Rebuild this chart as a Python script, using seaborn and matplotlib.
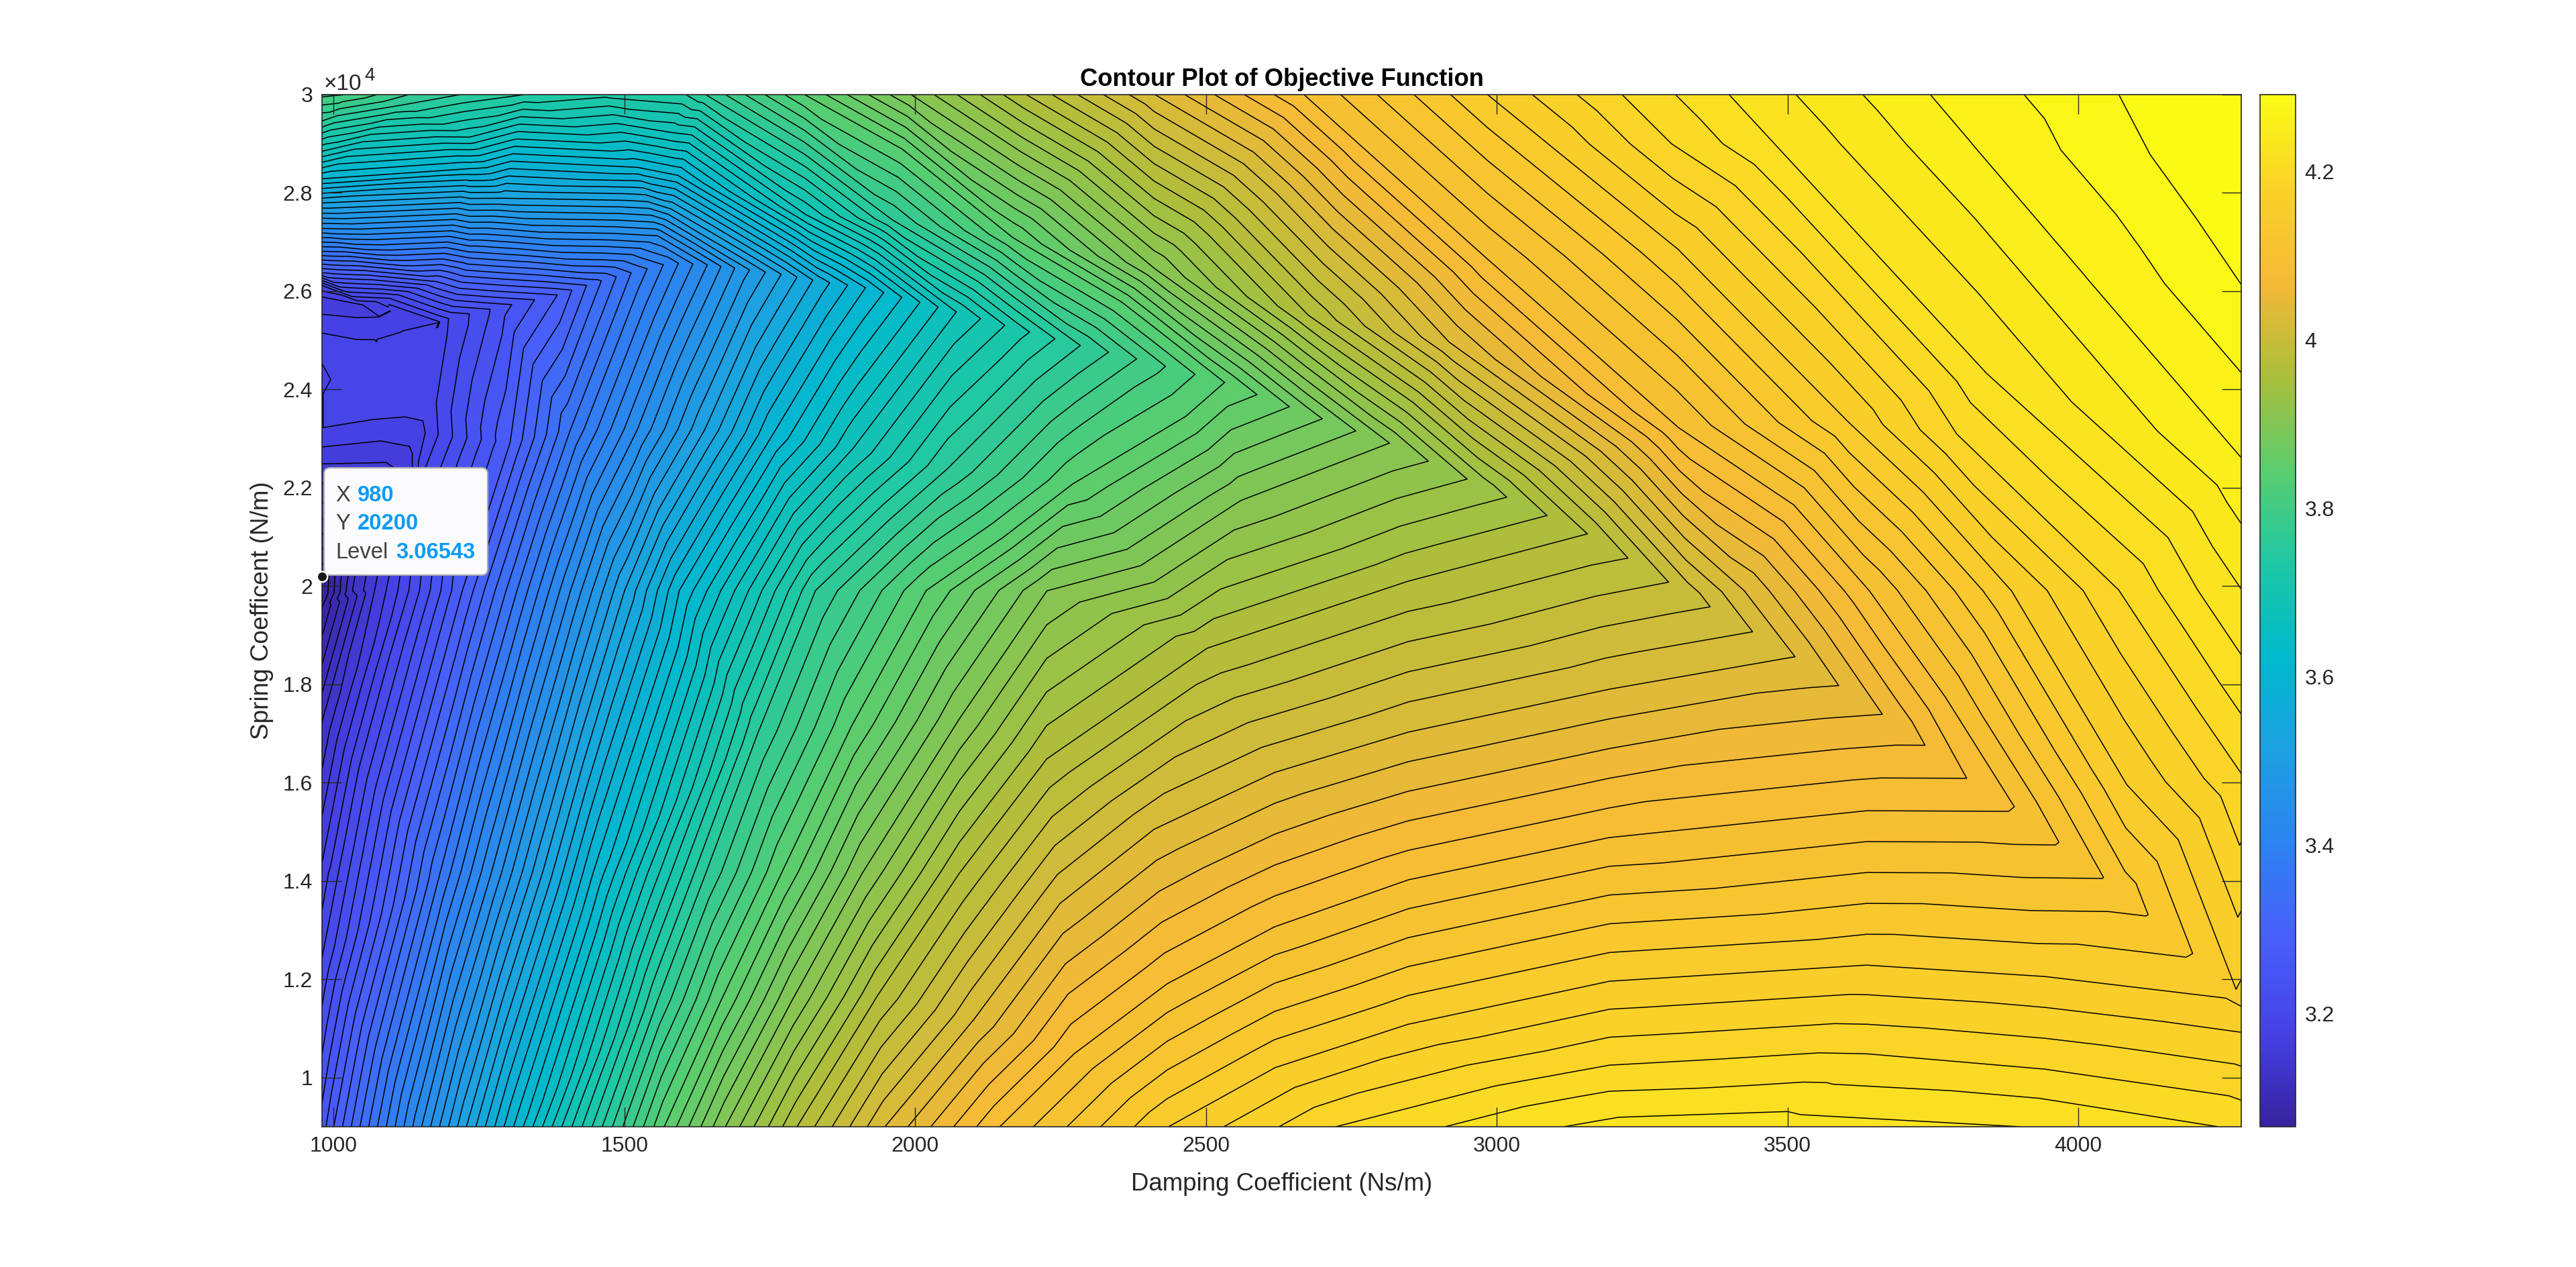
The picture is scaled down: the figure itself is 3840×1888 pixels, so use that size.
#!/usr/bin/env python3
"""Contour plot of the objective function, rebuilt from level curves read off the picture."""

import numpy as np
import matplotlib
matplotlib.use('Agg')
import matplotlib.pyplot as plt
import matplotlib.tri as mtri
from matplotlib.cm import ScalarMappable
from matplotlib.colors import Normalize
from matplotlib.patches import FancyBboxPatch
from matplotlib.transforms import IdentityTransform
import seaborn as sns

# value range of the colour bar
z_min = 3.0654
z_max = 4.2916

# contour numbering (0 = top right), value at some of the contours
level_k = [0, 15, 35, 75, 84]
level_z = [4.28, 4.09, 3.84, 3.20, 3.0704]

# parula look, evenly spaced from bottom to top
bar_colors = ['#37239f', '#4641e6', '#485ffa', '#2d82f0', '#1ea0e1', '#00b9cd',
              '#1ec8a5', '#5acd6e', '#aabe3c', '#f5b937', '#fad228', '#fafc14']

# level curves: damping (x), spring (y) and level (z)
c00_x = [4064, 4119, 4200, 4280]
c00_y = [30000, 28750, 27425, 26032]
c00_z = 4.28

c02_x = [3742, 3814, 4010, 4280]
c02_y = [30000, 29000, 26291, 22576]
c02_z = 4.2547

c05_x = [3397, 3475, 3838, 4204, 4280, 3095, 3194, 3500, 3922]
c05_y = [30000, 29000, 24352, 19912, 18574, 9000, 9203, 9326, 9000]
c05_z = 4.2167

c07_x = [3213, 3298, 3790, 4068, 4280, 2718, 3194, 3636, 3944, 4280]
c07_y = [30000, 29000, 23081, 19912, 16156, 9000, 10268, 10500, 10186, 9558]
c07_z = 4.1913

c10_x = [2982, 3086, 3310, 3598, 3883, 4082, 4271, 4253, 3944, 3636, 3194, 2848, 2618, 2433]
c10_y = [30000, 29000, 26851, 23395, 19912, 15951, 11757, 11634, 12071, 12304, 11976, 11101, 10214, 9000]
c10_z = 4.1533

c15_x = [2667, 2761, 2987, 3310, 3639, 3771, 3888, 3878, 3636, 3194, 2848, 2618, 2433, 2272, 2144]
c15_y = [30000, 29000, 26606, 23232, 19912, 17727, 15527, 15432, 15445, 14899, 14038, 13082, 11921, 10487, 9000]
c15_z = 4.09

c20_x = [2411, 2917, 3424, 3511, 3194, 2848, 2618, 2410, 2249, 2099, 1947]
c20_y = [30000, 24966, 19912, 18574, 17918, 17044, 16224, 15063, 13560, 11170, 9000]
c20_z = 4.0275

c25_x = [2190, 2675, 3154, 2848, 2502, 2226, 2076, 1937, 1796]
c25_y = [30000, 25513, 21073, 20117, 18751, 16497, 14175, 11716, 9000]
c25_z = 3.965

c30_x = [1992, 2410, 2814, 2560, 2226, 2076, 1909, 1788, 1673]
c30_y = [30000, 26469, 22917, 21756, 19912, 17317, 14175, 11580, 9000]
c30_z = 3.9025

c35_x = [1809, 2168, 2531, 2272, 2018, 1891, 1770, 1666, 1568]
c35_y = [30000, 27084, 24147, 22098, 19912, 17180, 14175, 11580, 9000]
c35_z = 3.84

c40_x = [980, 1119, 1219, 1639, 1960, 2283, 2053, 1828, 1730, 1640, 1557, 1479]
c40_y = [29461, 29788, 30000, 30000, 27453, 24898, 22371, 19912, 17044, 14175, 11580, 9000]
c40_z = 3.76

c45_x = [980, 1234, 1580, 1811, 2070, 1891, 1713, 1540, 1392]
c45_y = [28846, 29133, 29228, 27562, 25581, 22781, 19912, 14175, 9000]
c45_z = 3.68

c50_x = [980, 1234, 1522, 1592, 1914, 1753, 1594, 1446, 1309]
c50_y = [28286, 28491, 28518, 28354, 26073, 23054, 19912, 14175, 9000]
c50_z = 3.60

c55_x = [980, 1292, 1580, 1769, 1638, 1500, 1359, 1228]
c55_y = [27794, 27890, 27671, 26346, 23191, 19912, 14175, 9000]
c55_z = 3.52

c60_x = [980, 1292, 1557, 1642, 1522, 1407, 1271, 1151]
c60_y = [27275, 27261, 27125, 26537, 23191, 19912, 14175, 9000]
c60_z = 3.44

c65_x = [980, 1234, 1511, 1407, 1315, 1183, 1075]
c65_y = [26810, 26674, 26373, 23191, 19912, 14175, 9000]
c65_z = 3.36

c70_x = [980, 1176, 1384, 1303, 1221, 1096, 1000]
c70_y = [26373, 26196, 25923, 22917, 19912, 14175, 9000]
c70_z = 3.28

c75_x = [980, 1096, 1197, 1194, 1176, 1156, 1129, 1008, 980]
c75_y = [26114, 25854, 25444, 25062, 23737, 22371, 19912, 14175, 12454]
c75_z = 3.20

# the flat low area on the left
c76_x = [980, 1093, 1182, 1179, 1072, 980, 980, 994, 980,
         980, 1073, 1153, 1157, 1130, 1110, 991, 980]
c76_y = [26005, 25677, 25376, 25267, 25021, 25158, 24502, 24201, 23901,
         23204, 23382, 23354, 23109, 21825, 19912, 14175, 13424]
c76_z = 3.1856

c77_x = [980, 1050, 1096, 1078, 1038, 980, 980, 1130, 1135, 1135, 1090, 980]
c77_y = [25882, 25718, 25595, 25485, 25472, 25540, 22822, 22835, 22685, 22412, 19912, 14380]
c77_z = 3.1712

c78_x = [980, 1090, 1107, 1070, 980]
c78_y = [22480, 22508, 22371, 19912, 15336]
c78_z = 3.1568

c80_x = [980, 1038, 1050, 1032, 980]
c80_y = [21688, 21688, 21142, 19912, 17249]
c80_z = 3.128

c84_x = [980, 992, 990, 980]
c84_y = [20459, 20322, 19844, 19571]
c84_z = 3.0704

# ridge where the contours fold, between the curves above
ridge_x = [4080, 3699, 3329, 2981, 2670, 2404, 2174, 1992, 1837, 1701, 1580, 1447, 1286]
ridge_y = [13724, 17112, 19844, 22002, 23532, 24557, 25240, 25827, 26196, 26455, 26578, 26168, 25677]
ridge_z = [4.1217, 4.0588, 3.9963, 3.9338, 3.8713, 3.80, 3.72, 3.64, 3.56, 3.48, 3.40, 3.32, 3.24]

# single readings: plateau, corners and edges
extra_x = [980, 1142, 1165, 1119, 1027, 1010, 1010, 1010, 1040, 1130, 1060, 980, 980,
           980, 1021, 1130, 1330, 1465, 1605,
           4280, 4280, 4280, 4280, 4248, 3500, 980, 980]
extra_y = [24830, 24557, 24010, 23737, 23737, 24500, 24200, 23950, 24800, 25000, 23650, 25718, 24201,
           30000, 30000, 30000, 30000, 30000, 30000,
           30000, 11600, 10937, 9000, 9000, 9000, 9000, 20200]
extra_z = [3.193, 3.193, 3.193, 3.193, 3.193, 3.193, 3.193, 3.193, 3.193, 3.193, 3.193, 3.16, 3.178,
           3.813, 3.808, 3.776, 3.744, 3.733, 3.744,
           4.2916, 4.15, 4.166, 4.198, 4.204, 4.222, 3.256, 3.0654]

x_ticks = [1000, 1500, 2000, 2500, 3000, 3500, 4000]
y_ticks = [10000, 12000, 14000, 16000, 18000, 20000, 22000, 24000, 26000, 28000, 30000]
y_tick_labels = ['1', '1.2', '1.4', '1.6', '1.8', '2', '2.2', '2.4', '2.6', '2.8', '3']
bar_ticks = [3.2, 3.4, 3.6, 3.8, 4.0, 4.2]
bar_tick_labels = ['3.2', '3.4', '3.6', '3.8', '4', '4.2']

tip_x = 980
tip_y = 20200
tip_level = 3.06543

sns.set_theme(style='white')
plt.rcParams['font.family'] = ['Liberation Sans', 'DejaVu Sans']
plt.rcParams['xtick.color'] = '#262626'
plt.rcParams['ytick.color'] = '#262626'

curves = [(c00_x, c00_y, c00_z), (c02_x, c02_y, c02_z), (c05_x, c05_y, c05_z),
          (c07_x, c07_y, c07_z), (c10_x, c10_y, c10_z), (c15_x, c15_y, c15_z),
          (c20_x, c20_y, c20_z), (c25_x, c25_y, c25_z), (c30_x, c30_y, c30_z),
          (c35_x, c35_y, c35_z), (c40_x, c40_y, c40_z), (c45_x, c45_y, c45_z),
          (c50_x, c50_y, c50_z), (c55_x, c55_y, c55_z), (c60_x, c60_y, c60_z),
          (c65_x, c65_y, c65_z), (c70_x, c70_y, c70_z), (c75_x, c75_y, c75_z),
          (c76_x, c76_y, c76_z), (c77_x, c77_y, c77_z), (c78_x, c78_y, c78_z),
          (c80_x, c80_y, c80_z), (c84_x, c84_y, c84_z)]

xs = np.concatenate([c[0] for c in curves] + [ridge_x, extra_x]).astype(float)
ys = np.concatenate([c[1] for c in curves] + [ridge_y, extra_y]).astype(float)
zs = np.concatenate([np.full(len(c[0]), c[2]) for c in curves] + [ridge_z, extra_z])

# contour levels, a hair above the curve values so flat triangles stay out of the lines
line_levels = np.sort(np.interp(np.arange(85), level_k, level_z)) + 0.0003
fill_levels = np.concatenate([[z_min - 0.001], line_levels, [z_max + 0.001]])

cmap = sns.blend_palette(bar_colors, n_colors=256, as_cmap=True)
norm = Normalize(z_min, z_max)

fig = plt.figure(figsize=(19.2, 9.44), dpi=200, facecolor='white')
ax = fig.add_axes([480 / 3840, 1 - 1679 / 1888, (3341 - 480) / 3840, (1679 - 141) / 1888])
cax = fig.add_axes([3369 / 3840, 1 - 1679 / 1888, (3421.5 - 3369) / 3840, (1679 - 141) / 1888])

# triangles worked out in plot proportions, the two axes have very different units
shape = mtri.Triangulation(xs * 2861 / 3300, ys * 1538 / 21000)
tri = mtri.Triangulation(xs, ys, shape.triangles)
ax.tricontourf(tri, zs, levels=fill_levels, cmap=cmap, norm=norm)
ax.tricontour(tri, zs, levels=line_levels, colors='black', linewidths=0.55)

ax.set_xlim(980, 4280)
ax.set_ylim(9000, 30000)
ax.set_xticks(x_ticks)
ax.set_xticklabels([str(v) for v in x_ticks])
ax.set_yticks(y_ticks)
ax.set_yticklabels(y_tick_labels)
ax.set_axisbelow(False)
ax.tick_params(direction='in', length=10.4, width=0.5, top=True, right=True,
               labelsize=11.5, pad=5, left=True, bottom=True)
ax.set_xlabel('Damping Coefficient (Ns/m)', fontsize=13.2, color='#262626', labelpad=8.5)
ax.set_ylabel('Spring Coefficent (N/m)', fontsize=13.3, color='#262626', labelpad=5)
ax.set_title('Contour Plot of Objective Function', fontsize=13.1, fontweight='bold',
             color='black', pad=4.5)
for s in ax.spines.values():
    s.set_visible(True)
    s.set_linewidth(0.6)
    s.set_color('#262626')

# the exponent above the y axis
ax.text(0.001, 1.0048, '\u00d710', transform=ax.transAxes, fontsize=12, color='#262626',
        ha='left', va='baseline')
ax.text(0.022, 1.0137, '4', transform=ax.transAxes, fontsize=10, color='#262626',
        ha='left', va='baseline')

cb = fig.colorbar(ScalarMappable(norm=norm, cmap=cmap), cax=cax)
cb.set_ticks(bar_ticks)
cb.set_ticklabels(bar_tick_labels)
cax.tick_params(direction='in', length=5.8, width=0.5, right=True, labelsize=11.5, pad=5)
cb.outline.set_linewidth(0.6)
cb.outline.set_edgecolor('#262626')

# data tip
box = FancyBboxPatch((483, 1888 - 857), 244, 160, boxstyle='round,pad=0,rounding_size=9',
                     transform=IdentityTransform(), facecolor='#fbfbfe', edgecolor='#a8a8b0',
                     linewidth=0.8, zorder=5, clip_on=False)
ax.add_patch(box)
ax.plot([tip_x], [tip_y], marker='o', ms=5.6, mfc='#1a1a1a', mec='#fffdf0', mew=0.9,
        clip_on=False, zorder=8)
tip_rows = [('X', 500, 533, 747, str(tip_x)),
            ('Y', 500, 533, 789, str(tip_y)),
            ('Level', 500, 590, 832, str(tip_level))]
for name, x0, x1, yb, val in tip_rows:
    fig.text(x0 / 3840, 1 - yb / 1888, name, fontsize=11.8, color='#404040',
             ha='left', va='baseline', zorder=7)
    fig.text(x1 / 3840, 1 - yb / 1888, val, fontsize=11.8, color='#0c9bf5', fontweight='bold',
             ha='left', va='baseline', zorder=7)

plt.savefig('out.png', dpi=200)
plt.close()
